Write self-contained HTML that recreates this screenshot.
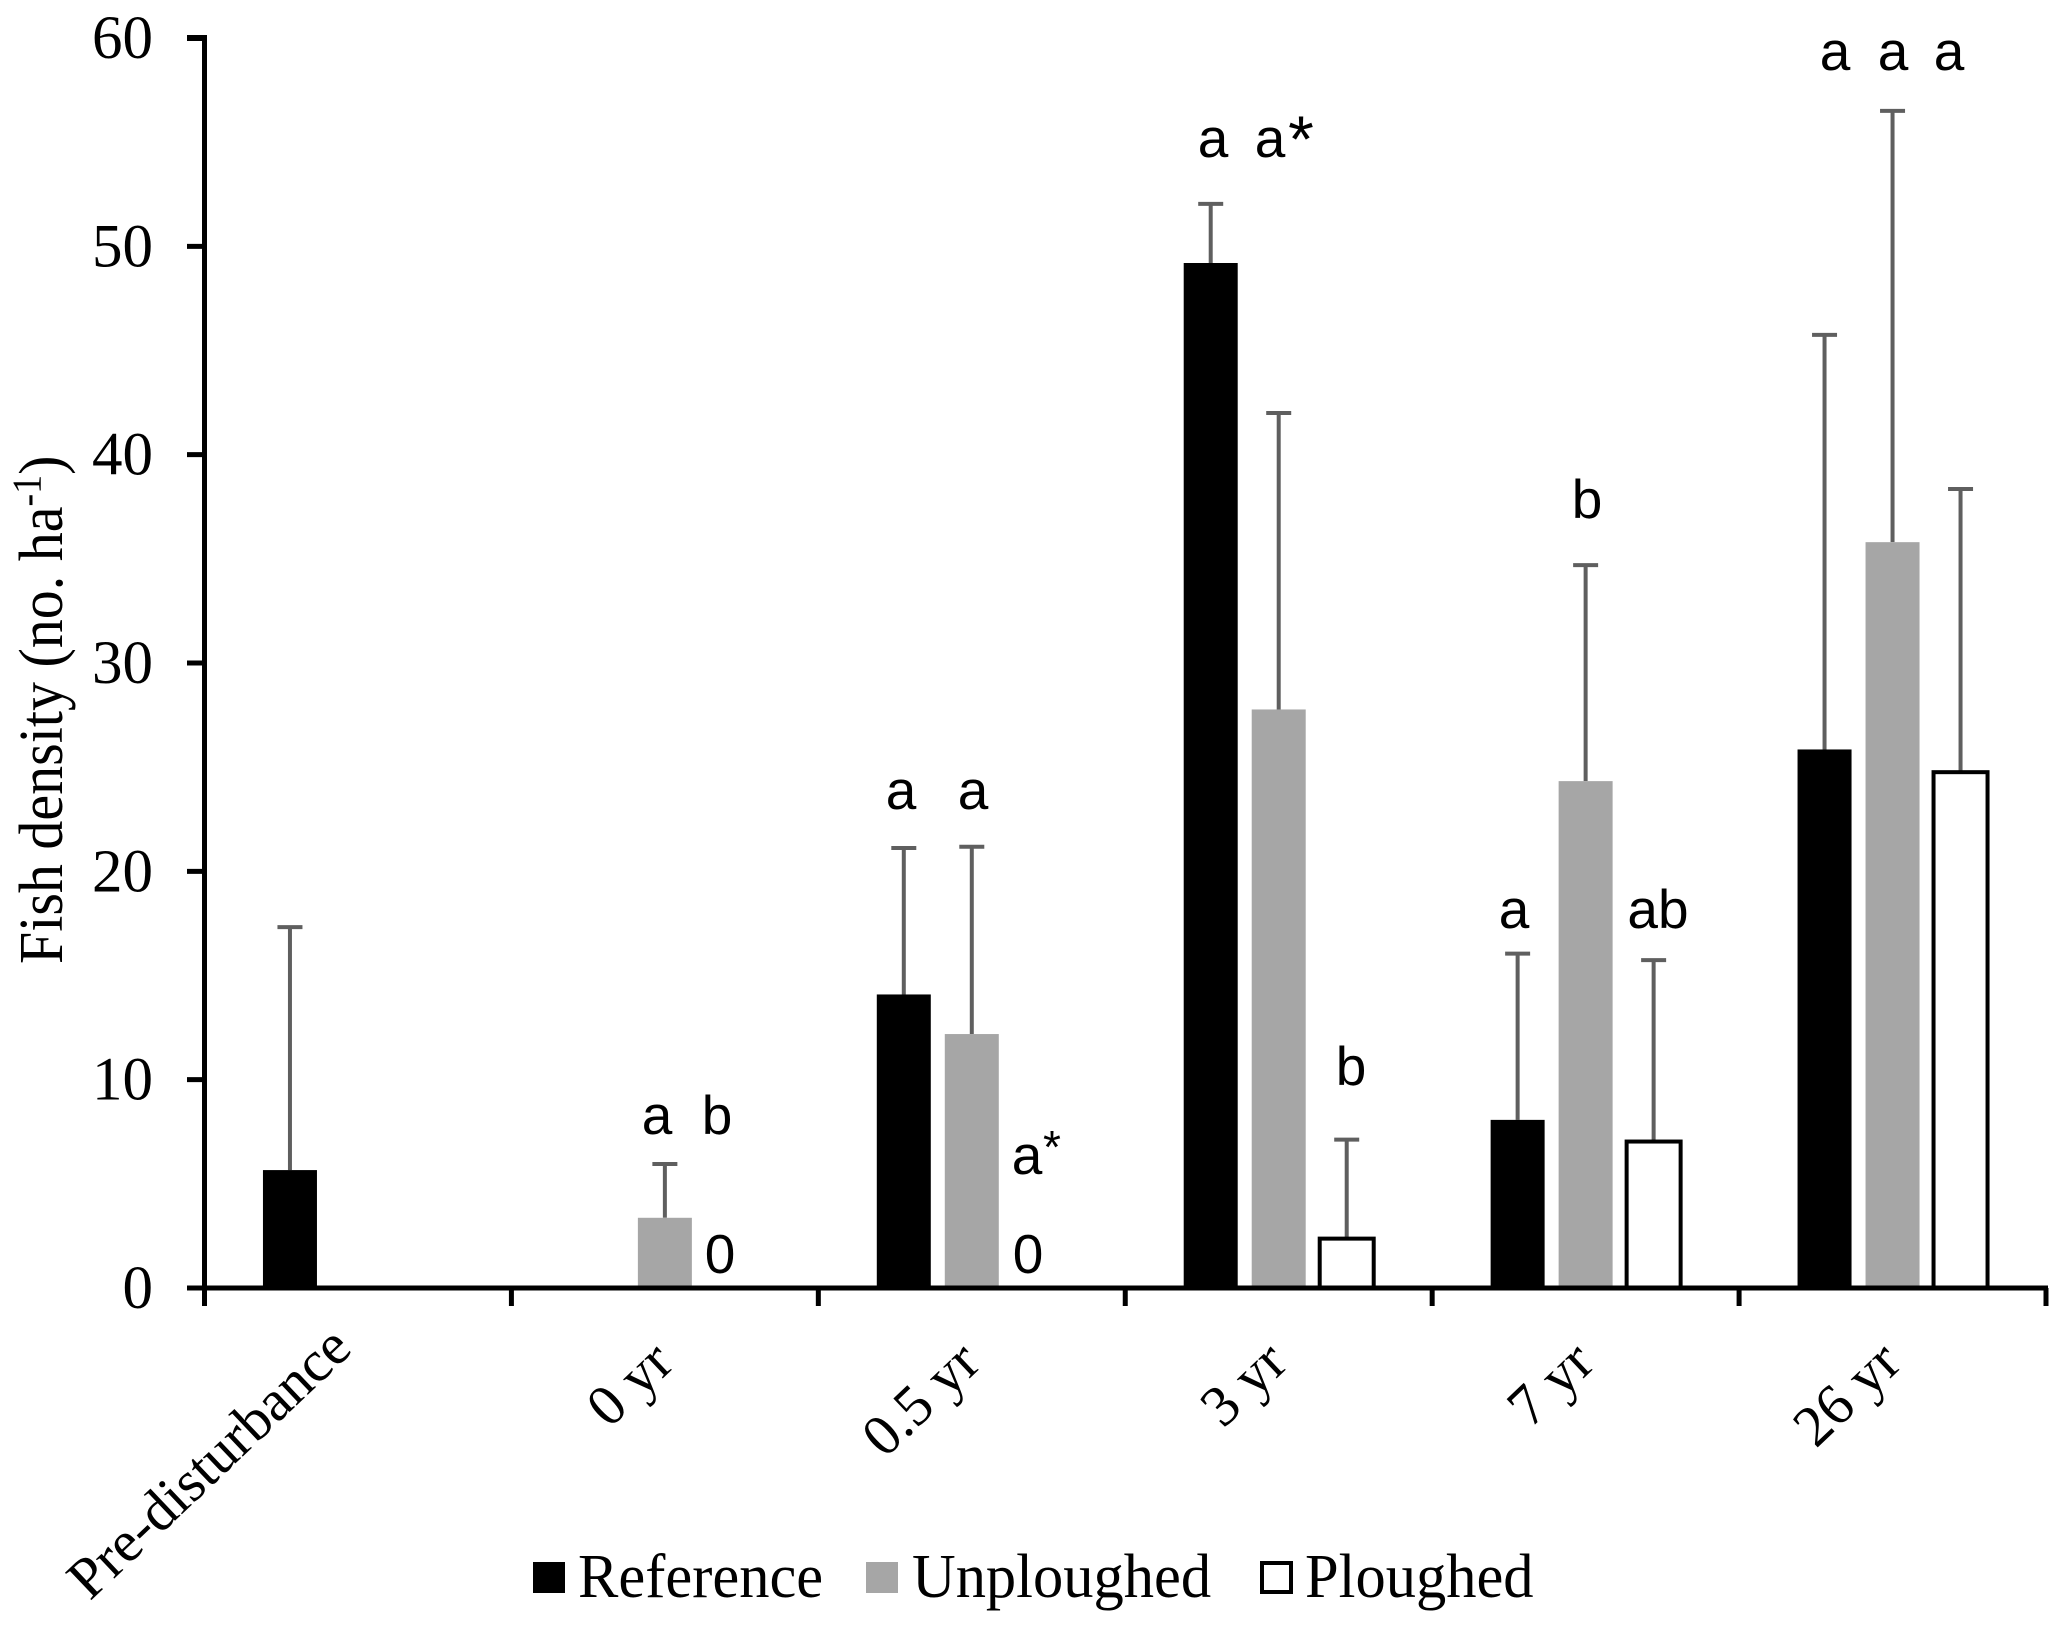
<!DOCTYPE html>
<html lang="en">
<head>
<meta charset="utf-8">
<title>Fish density chart</title>
<style>
html,body{margin:0;padding:0;background:#fff;}
svg{display:block;}
.serif{font-family:"Liberation Serif",serif;fill:#000;}
.sans{font-family:"Liberation Sans",sans-serif;fill:#000;font-size:55px;}
.leg{font-size:60.5px;}
</style>
</head>
<body>
<svg id="chart" xmlns="http://www.w3.org/2000/svg" width="2067" height="1628" viewBox="0 0 2067 1628">
<rect x="0" y="0" width="2067" height="1628" fill="#fff"/>
<g id="marks"></g>
<g id="axes"></g>
<text class="serif" font-size="58" transform="translate(62,964) rotate(-90) scale(1,1.08)">Fish density (no. ha<tspan font-size="38" dy="-20">-1</tspan><tspan dy="20">)</tspan></text>
<g>
<text class="sans" text-anchor="middle" x="657" y="1134">a</text>
<text class="sans" text-anchor="middle" x="717" y="1134">b</text>
<text class="sans" text-anchor="middle" x="720" y="1273">0</text>
<text class="sans" text-anchor="middle" x="901" y="809">a</text>
<text class="sans" text-anchor="middle" x="973" y="809">a</text>
<text class="sans" text-anchor="middle" x="1027" y="1174">a</text>
<text class="sans" style="font-size:46px" text-anchor="middle" x="1052" y="1163">*</text>
<text class="sans" text-anchor="middle" x="1028" y="1273">0</text>
<text class="sans" text-anchor="middle" x="1213" y="157">a</text>
<text class="sans" text-anchor="middle" x="1270" y="157">a</text>
<text class="sans" style="font-size:66px" text-anchor="middle" x="1301" y="162">*</text>
<text class="sans" text-anchor="middle" x="1351" y="1085">b</text>
<text class="sans" text-anchor="middle" x="1514" y="928">a</text>
<text class="sans" text-anchor="middle" x="1587" y="518">b</text>
<text class="sans" text-anchor="middle" x="1658" y="928">ab</text>
<text class="sans" text-anchor="middle" x="1835" y="70">a</text>
<text class="sans" text-anchor="middle" x="1893" y="70">a</text>
<text class="sans" text-anchor="middle" x="1949" y="70">a</text>
</g>
<g>
<g>
<rect x="533" y="1562" width="32" height="31" fill="#000"/>
<text class="serif leg" transform="translate(578,1597) scale(1,1.04)">Reference</text>
</g>
<g>
<rect x="866" y="1562" width="32" height="31" fill="#a6a6a6"/>
<text class="serif leg" transform="translate(912,1597) scale(1,1.04)">Unploughed</text>
</g>
<g>
<rect x="1262" y="1563" width="29" height="29" fill="#fff" stroke="#000" stroke-width="4"/>
<text class="serif leg" transform="translate(1305,1597) scale(1,1.04)">Ploughed</text>
</g>
</g>
</svg>
<script>
const categories = ["Pre-disturbance", "0 yr", "0.5 yr", "3 yr", "7 yr", "26 yr"];
const referenceValues = [5.66, null, 14.09, 49.2, 8.07, 25.85];
const referenceErrorTops = [17.32, null, 21.12, 52.04, 16.05, 45.75];
const unploughedValues = [null, 3.37, 12.19, 27.77, 24.33, 35.8];
const unploughedErrorTops = [null, 5.95, 21.18, 42.0, 34.7, 56.5];
const ploughedValues = [null, null, null, 2.37, 7.03, 24.76];
const ploughedErrorTops = [null, null, null, 7.12, 15.74, 38.35];
const yTickLabels = [0, 10, 20, 30, 40, 50, 60];

const NS = "http://www.w3.org/2000/svg";
const marks = document.getElementById("marks");
const axes = document.getElementById("axes");
const plotLeft = 204.5, plotRight = 2046, zeroY = 1288, topY = 38, yMax = 60;
const yScale = v => zeroY - (v / yMax) * (zeroY - topY);
const bandWidth = (plotRight - plotLeft) / categories.length;
const xCenter = i => plotLeft + bandWidth * (i + 0.5);
const seriesOffset = 68, barWidth = 54, capWidth = 25;

function make(tag, parent, attrs, text) {
  const el = document.createElementNS(NS, tag);
  for (const k in attrs) el.setAttribute(k, attrs[k]);
  if (text !== undefined) el.textContent = text;
  parent.appendChild(el);
  return el;
}

function drawSeries(name, values, tops, slot, fill, stroke) {
  values.forEach((v, i) => {
    if (v === null) return;
    const cx = xCenter(i) + slot * seriesOffset;
    const yV = yScale(v), yT = yScale(tops[i]);
    const stem = make("line", marks, {x1: cx, x2: cx, y1: yT, y2: yV, stroke: "#5f5f5f", "stroke-width": 4});
    
    
    const cap = make("line", marks, {x1: cx - capWidth / 2, x2: cx + capWidth / 2, y1: yT, y2: yT, stroke: "#5f5f5f", "stroke-width": 4});
    
    
    const attrs = {x: cx - barWidth / 2, y: yV, width: barWidth, height: zeroY - yV, fill: fill};
    if (stroke) { attrs.stroke = stroke; attrs["stroke-width"] = 4; }
    const bar = make("rect", marks, attrs);
    
    
  });
}
drawSeries("reference", referenceValues, referenceErrorTops, -1, "#000", null);
drawSeries("unploughed", unploughedValues, unploughedErrorTops, 0, "#a6a6a6", null);
drawSeries("ploughed", ploughedValues, ploughedErrorTops, 1, "#fff", "#000");

const yAxisLine = make("line", axes, {x1: plotLeft, x2: plotLeft, y1: topY - 3, y2: zeroY + 18, stroke: "#000", "stroke-width": 5});


const xAxisLine = make("line", axes, {x1: 187, x2: plotRight + 2, y1: zeroY, y2: zeroY, stroke: "#000", "stroke-width": 5});



yTickLabels.forEach(t => {
  const y = yScale(t);
  const tick = make("line", axes, {x1: 187, x2: plotLeft, y1: y, y2: y, stroke: "#000", "stroke-width": t === 60 ? 6 : 5});
  
  
  const label = make("text", axes, {x: 153, y: y + 20, "text-anchor": "end", class: "serif", "font-size": 61}, String(t));
  
  
});

for (let i = 0; i <= categories.length; i++) {
  const x = plotLeft + bandWidth * i;
  const tick = make("line", axes, {x1: x, x2: x, y1: zeroY, y2: zeroY + 18, stroke: "#000", "stroke-width": 5});
  
  
}

categories.forEach((c, i) => {
  const ax = xCenter(i) + (i === 0 ? -4 : 11), ay = i === 0 ? 1351 : 1366;
  const label = make("text", axes, {x: 0, y: 0, "text-anchor": "end", class: "serif", "font-size": 58, transform: "translate(" + ax + "," + ay + ") rotate(-43.5)"}, c);
  
  
});
</script>
</body>
</html>
